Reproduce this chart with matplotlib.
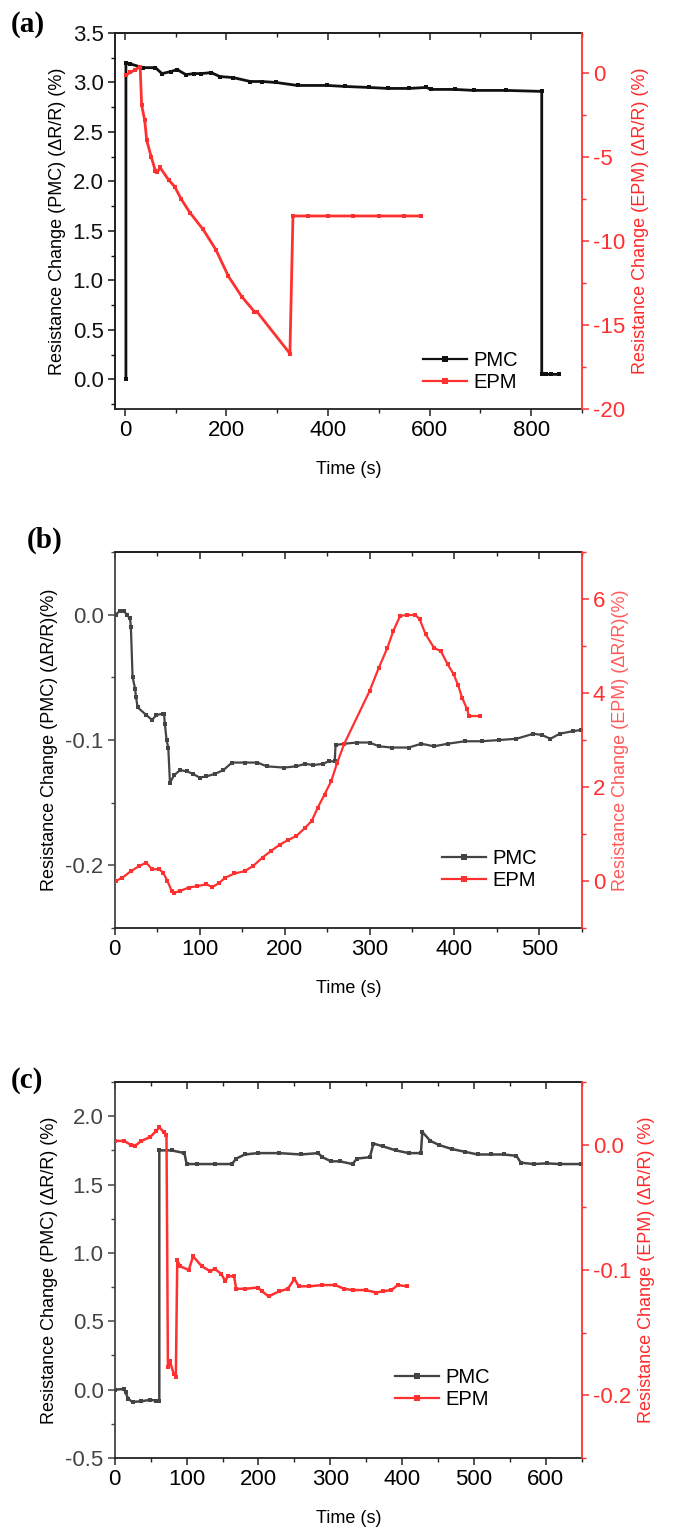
import numpy as np
import matplotlib
matplotlib.use("Agg")
import matplotlib.pyplot as plt
from matplotlib.ticker import MultipleLocator, FormatStrFormatter
from matplotlib.lines import Line2D

plt.rcParams['font.family'] = ['Liberation Sans', 'DejaVu Sans']

# ---- panel (a) ----
a_pmc_t = [2, 2, 9.5, 35, 60, 73, 90, 103, 120, 137, 150, 170, 187, 213, 247, 270, 298, 340,
           399, 433, 480, 518, 560, 594, 603, 650, 687, 750, 821, 821, 830, 840, 855]
a_pmc_v = [0.0, 3.20, 3.19, 3.15, 3.15, 3.09, 3.11, 3.13, 3.08, 3.09, 3.09, 3.10, 3.06, 3.05,
           3.01, 3.01, 3.00, 2.97, 2.97, 2.96, 2.95, 2.94, 2.94, 2.95, 2.93, 2.93, 2.92, 2.92,
           2.91, 0.05, 0.05, 0.05, 0.05]
a_epm_t = [3, 10, 20, 30, 33, 39, 43, 52, 60, 64, 69, 86, 98, 111, 128, 154, 179, 204, 230,
           255, 260, 325, 331, 360, 400, 450, 500, 550, 584]
a_epm_v = [-0.1, 0.05, 0.2, 0.4, -1.9, -2.8, -4.0, -5.0, -5.8, -5.9, -5.6, -6.35, -6.75, -7.5,
           -8.3, -9.3, -10.5, -12.1, -13.3, -14.2, -14.2, -16.7, -8.5, -8.5, -8.5, -8.5, -8.5,
           -8.5, -8.5]

# ---- panel (b) ----
b_pmc_t = [1, 6, 11, 14, 18, 19, 21, 24, 25, 27, 37, 44, 49, 57, 58, 59, 61, 63, 65, 70, 77, 85,
           92, 100, 108, 118, 128, 138, 153, 168, 179, 199, 214, 224, 234, 245, 252, 259, 260,
           270, 285, 300, 311, 326, 346, 361, 376, 392, 412, 432, 453, 473, 493, 503, 513, 524,
           539, 549]
b_pmc_v = [0.0, 0.003, 0.003, 0.0, -0.003, -0.010, -0.050, -0.059, -0.066, -0.074, -0.080, -0.084,
           -0.080, -0.079, -0.079, -0.087, -0.100, -0.106, -0.134, -0.128, -0.124, -0.125, -0.127,
           -0.130, -0.129, -0.127, -0.124, -0.118, -0.118, -0.118, -0.121, -0.122, -0.121, -0.119,
           -0.120, -0.119, -0.117, -0.117, -0.104, -0.103, -0.102, -0.102, -0.105, -0.106, -0.106,
           -0.103, -0.105, -0.103, -0.101, -0.101, -0.100, -0.099, -0.095, -0.096, -0.099, -0.095,
           -0.093, -0.092]
b_epm_t = [1, 9, 19, 29, 37, 44, 52, 57, 62, 67, 70, 77, 87, 97, 108, 115, 123, 130, 141, 153,
           163, 174, 184, 194, 204, 214, 224, 232, 239, 247, 255, 262, 270, 300, 311, 321, 328,
           336, 344, 354, 359, 366, 376, 384, 392, 399, 404, 409, 415, 417, 430]
b_epm_v = [0.0, 0.07, 0.21, 0.32, 0.39, 0.25, 0.25, 0.18, 0.0, -0.21, -0.25, -0.21, -0.14, -0.11,
           -0.07, -0.13, -0.04, 0.07, 0.16, 0.21, 0.32, 0.50, 0.64, 0.77, 0.87, 0.96, 1.13, 1.28,
           1.56, 1.84, 2.13, 2.52, 2.91, 4.04, 4.54, 4.96, 5.32, 5.64, 5.66, 5.66, 5.57, 5.25,
           4.96, 4.89, 4.61, 4.40, 4.18, 3.90, 3.65, 3.51, 3.51]

# ---- panel (c) ----
c_pmc_t = [1, 13, 15, 19, 25, 37, 49, 58, 62, 62, 79, 97, 100, 115, 139, 163, 169, 181, 199, 229,
           259, 283, 289, 301, 313, 331, 337, 355, 360, 373, 391, 409, 426, 428, 439, 451, 469,
           487, 505, 523, 541, 559, 565, 583, 601, 619, 649]
c_pmc_v = [0.0, 0.005, -0.02, -0.07, -0.09, -0.085, -0.075, -0.08, -0.08, 1.75, 1.75, 1.73, 1.65,
           1.65, 1.65, 1.65, 1.69, 1.72, 1.73, 1.73, 1.72, 1.73, 1.70, 1.67, 1.67, 1.65, 1.69,
           1.70, 1.80, 1.78, 1.75, 1.73, 1.73, 1.885, 1.82, 1.79, 1.76, 1.74, 1.72, 1.72, 1.72,
           1.71, 1.66, 1.65, 1.655, 1.65, 1.65]
c_epm_t = [1, 13, 22, 28, 37, 49, 58, 62, 68, 72, 74, 77, 82, 85, 87, 91, 103, 109, 121, 133,
           139, 148, 154, 157, 166, 169, 181, 199, 205, 214, 229, 241, 250, 256, 271, 289, 307,
           319, 331, 349, 364, 373, 385, 394, 406]
c_epm_v = [0.003, 0.003, 0.0, -0.001, 0.003, 0.006, 0.011, 0.014, 0.010, 0.008, -0.177, -0.173,
           -0.183, -0.185, -0.092, -0.097, -0.100, -0.089, -0.097, -0.101, -0.099, -0.103, -0.109,
           -0.105, -0.105, -0.115, -0.115, -0.114, -0.117, -0.121, -0.117, -0.115, -0.107, -0.113,
           -0.113, -0.112, -0.112, -0.115, -0.116, -0.116, -0.118, -0.117, -0.116, -0.112, -0.113]

RED = '#ff3030'
RED_TXT = '#ff2a2a'
DARK = '#222222'

fig = plt.figure(figsize=(6.75, 15.29), dpi=100)


def panel(bottom, letter, letter_xy, t1, v1, t2, v2, pmc_col, xlim, xmaj, ylim1, ymaj1,
          ylim2, ymaj2, lab1, lab2, leg_xy, ms, lw, red_lab, fmt1, fmt2):
    ax = fig.add_axes([0.170, bottom, 0.692, 0.2459])
    ax2 = ax.twinx()
    ax.plot(t1, v1, '-s', color=pmc_col, lw=lw, ms=ms, mew=0)
    ax2.plot(t2, v2, '-s', color=RED, lw=lw, ms=ms, mew=0)
    ax.set_xlim(*xlim)
    ax.set_ylim(*ylim1)
    ax2.set_ylim(*ylim2)
    ax.xaxis.set_major_locator(MultipleLocator(xmaj))
    ax.xaxis.set_minor_locator(MultipleLocator(xmaj / 2))
    ax.yaxis.set_major_locator(MultipleLocator(ymaj1))
    ax.yaxis.set_minor_locator(MultipleLocator(ymaj1 / 2))
    ax2.yaxis.set_major_locator(MultipleLocator(ymaj2))
    ax2.yaxis.set_minor_locator(MultipleLocator(ymaj2 / 2))
    ax.yaxis.set_major_formatter(fmt1)
    ax2.yaxis.set_major_formatter(fmt2)
    ax.spines['left'].set_color(pmc_col)
    for s in ['left', 'bottom', 'top']:
        ax.spines[s].set_linewidth(1.3)
    ax.spines['top'].set_color(DARK)
    ax.spines['bottom'].set_color(DARK)
    ax.spines['right'].set_visible(False)
    for s in ['left', 'bottom', 'top']:
        ax2.spines[s].set_visible(False)
    ax2.spines['right'].set_color(RED)
    ax2.spines['right'].set_linewidth(1.3)
    ax.tick_params(axis='both', which='major', direction='out', length=5, width=1.1,
                   labelsize=16, colors=pmc_col, pad=3)
    ax.tick_params(axis='x', colors=DARK, labelcolor='black')
    ax.tick_params(axis='both', which='minor', direction='out', length=3, width=1.0)
    ax.tick_params(axis='y', which='minor', colors=pmc_col)
    ax.tick_params(axis='x', which='minor', colors=DARK)
    ax2.tick_params(axis='y', which='major', direction='out', length=5, width=1.1,
                    labelsize=16, colors=RED, pad=3)
    ax2.tick_params(axis='y', which='minor', direction='out', length=3, width=1.0, colors=RED)
    top = ax.secondary_xaxis('top')
    top.xaxis.set_major_locator(MultipleLocator(xmaj))
    top.xaxis.set_minor_locator(MultipleLocator(xmaj / 2))
    top.tick_params(which='major', direction='in', length=5, width=1.1, labeltop=False,
                    colors=DARK)
    top.tick_params(which='minor', direction='in', length=3, width=1.0, colors=DARK)
    top.spines['top'].set_color(DARK)
    top.spines['top'].set_linewidth(1.3)
    ax.set_xlabel('Time (s)', fontsize=13, labelpad=14)
    ax.set_ylabel(lab1, fontsize=13, color='black', labelpad=5)
    ax2.set_ylabel(lab2, fontsize=13, color=red_lab, labelpad=5)
    handles = [Line2D([], [], color=pmc_col, marker='s', ms=ms + 2, mew=0, lw=1.6),
               Line2D([], [], color=RED, marker='s', ms=ms + 2, mew=0, lw=1.6)]
    ax2.legend(handles, ['PMC', 'EPM'], loc='lower left', bbox_to_anchor=leg_xy,
               frameon=False, fontsize=14.5, handlelength=2.2, handletextpad=0.3,
               labelspacing=0.15, borderpad=0, borderaxespad=0)
    fig.text(letter_xy[0], letter_xy[1], letter, fontsize=21, fontweight='bold',
             family='Liberation Serif', ha='left', va='center')
    return ax, ax2


fmt_1 = FormatStrFormatter('%.1f')
fmt_0 = FormatStrFormatter('%d')

panel(1 - 409 / 1529, '(a)', (0.016, 1 - 24 / 1529), a_pmc_t, a_pmc_v, a_epm_t, a_epm_v,
      '#111111', (-20, 900), 200, (-0.3, 3.5), 0.5, (-20, 2.4), 5,
      'Resistance Change (PMC) (\u0394R/R) (%)', 'Resistance Change (EPM) (\u0394R/R) (%)',
      (0.66, 0.045), 2.2, 2.0, RED_TXT, fmt_1, fmt_0)

panel(1 - 928 / 1529, '(b)', (0.040, 1 - 540 / 1529), b_pmc_t, b_pmc_v, b_epm_t, b_epm_v,
      '#444444', (0, 550), 100, (-0.25, 0.05), 0.1, (-1, 7), 2,
      'Resistance Change (PMC) (\u0394R/R)(%)', 'Resistance Change (EPM) (\u0394R/R)(%)',
      (0.70, 0.10), 2.4, 1.6, '#ff5a5a', fmt_1, fmt_0)

panel(1 - 1458 / 1529, '(c)', (0.016, 1 - 1080 / 1529), c_pmc_t, c_pmc_v, c_epm_t, c_epm_v,
      '#444444', (0, 650), 100, (-0.5, 2.25), 0.5, (-0.25, 0.05), 0.1,
      'Resistance Change (PMC) (\u0394R/R) (%)', 'Resistance Change (EPM) (\u0394R/R) (%)',
      (0.60, 0.13), 2.8, 1.8, RED_TXT, fmt_1, fmt_1)

fig.savefig('out.png', dpi=100)
